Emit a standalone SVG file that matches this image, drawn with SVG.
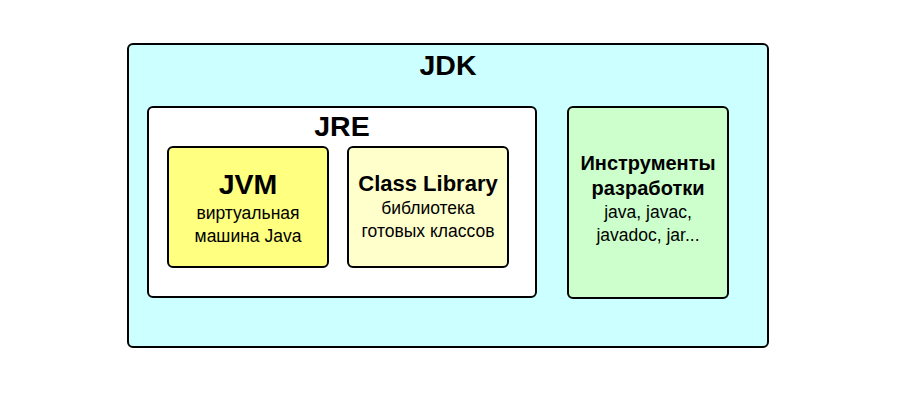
<svg xmlns="http://www.w3.org/2000/svg" width="920" height="400" viewBox="0 0 920 400">
<style>
.box{stroke:#000;stroke-width:2}
text{font-family:"Liberation Sans",Arial,sans-serif;text-anchor:middle;fill:#000}
.b{font-weight:bold}
.s{font-size:17.5px}
</style>
<rect width="920" height="400" fill="#fff"/>
<g id="jdk">
<rect class="box" x="128" y="44" width="640" height="303" rx="5" fill="#ccffff"/>
<text class="b" x="448" y="75" font-size="28.5">JDK</text>
</g>
<g id="jre">
<rect class="box" x="148" y="107" width="388" height="190" rx="5" fill="#ffffff"/>
<text class="b" x="342" y="136" font-size="28.5">JRE</text>
</g>
<g id="jvm">
<rect class="box" x="168" y="147" width="160" height="120" rx="5" fill="#ffff80"/>
<text class="b" x="248" y="194" font-size="28.5">JVM</text>
<text class="s" x="248" y="219">виртуальная</text>
<text class="s" x="248" y="242">машина Java</text>
</g>
<g id="classlib">
<rect class="box" x="348" y="147" width="160" height="120" rx="5" fill="#ffffcc"/>
<text class="b" x="428" y="191" font-size="22">Class Library</text>
<text class="s" x="428" y="214">библиотека</text>
<text class="s" x="428" y="237">готовых классов</text>
</g>
<g id="tools">
<rect class="box" x="568" y="107" width="160" height="191" rx="5" fill="#ccffcc"/>
<text class="b" x="648" y="170" font-size="20">Инструменты</text>
<text class="b" x="648" y="195" font-size="20">разработки</text>
<text class="s" x="648" y="218">java, javac,</text>
<text class="s" x="648" y="241">javadoc, jar...</text>
</g>
<g id="connectors"></g>
</svg>
